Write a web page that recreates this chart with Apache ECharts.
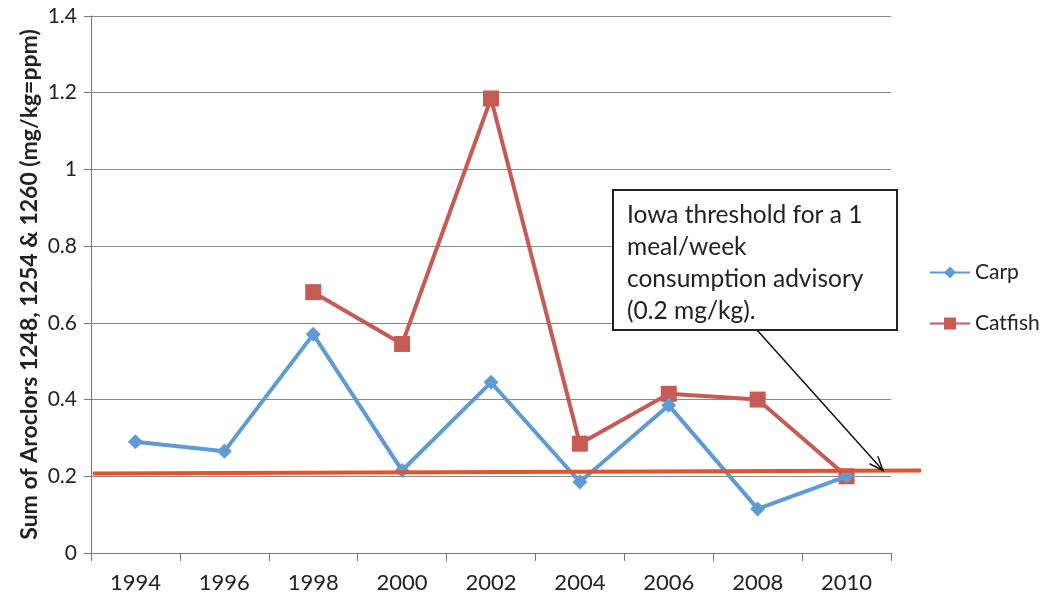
<!DOCTYPE html>
<html><head><meta charset="utf-8">
<script src="https://cdn.jsdelivr.net/npm/echarts@6/dist/echarts.min.js"></script>
<style>html,body{margin:0;padding:0;background:#fff}#c{width:1040px;height:596px}</style>
</head><body><div id="c"></div>
<script>
const years = ['1994','1996','1998','2000','2002','2004','2006','2008','2010'];
const carp = [0.29, 0.265, 0.57, 0.215, 0.445, 0.185, 0.385, 0.115, 0.2];
const catfish = [null, null, 0.68, 0.545, 1.185, 0.285, 0.415, 0.40, 0.2];
const threshold = 0.21;
const yTicks = {min: 0, max: 1.4, interval: 0.2};
const noteLines = ['Iowa threshold for a 1', 'meal/week', 'consumption advisory', '(0.2 mg/kg).'];

const FONT = 'Lato, "Open Sans", sans-serif';
const chart = echarts.init(document.getElementById('c'));
const option = {
  backgroundColor: '#fff',
  animation: false,
  grid: {left: 91, right: 149, top: 16, bottom: 43},
  legend: {
    orient: 'vertical', left: 924, top: 257, itemGap: 30,
    itemWidth: 40, itemHeight: 15,
    textStyle: {fontFamily: FONT, fontSize: 21, color: '#222'},
    data: ['Carp', 'Catfish']
  },
  xAxis: {
    type: 'category', data: years, boundaryGap: true,
    axisLine: {lineStyle: {color: '#777', width: 1}},
    axisTick: {show: true, length: 8, inside: false, lineStyle: {color: '#777'}},
    axisLabel: {fontFamily: FONT, fontSize: 22, color: '#222', margin: 19}
  },
  yAxis: {
    type: 'value', min: yTicks.min, max: yTicks.max, interval: yTicks.interval,
    name: 'Sum of Aroclors 1248, 1254 & 1260 (mg/kg=ppm)',
    nameLocation: 'middle', nameRotate: 90, nameGap: 50, nameMoveOverlap: false,
    nameTextStyle: {fontFamily: FONT, fontSize: 23, fontWeight: 'bold', color: '#222'},
    axisLine: {show: true, lineStyle: {color: '#777'}},
    axisTick: {show: true, length: 7, lineStyle: {color: '#777'}},
    splitLine: {lineStyle: {color: '#888', width: 1}},
    axisLabel: {fontFamily: FONT, fontSize: 21, color: '#222', margin: 14,
      formatter: v => String(Math.round(v * 10) / 10)}
  },
  series: [
    {name: 'Carp', type: 'line', data: carp, connectNulls: false,
     symbol: 'diamond', symbolSize: 15,
     lineStyle: {color: '#5f9bd3', width: 4},
     itemStyle: {color: '#5f9bd3'}, z: 3},
    {name: 'Catfish', type: 'line', data: catfish,
     symbol: 'rect', symbolSize: 16,
     lineStyle: {color: '#c65b55', width: 4},
     itemStyle: {color: '#c65b55'}, z: 2}
  ]
};
chart.setOption(option);

// Threshold line and annotation drawn from scale positions
const yT = chart.convertToPixel({yAxisIndex: 0}, threshold);
const x0 = chart.convertToPixel({xAxisIndex: 0}, years[0]);
const xN = chart.convertToPixel({xAxisIndex: 0}, years[years.length - 1]);
const band = (xN - x0) / (years.length - 1);
const gridLeft = x0 - band / 2, gridRight = xN + band / 2;
const tipX = gridRight - 8, tipY = yT - 2;
const startX = 757, startY = 330;
const ang = Math.atan2(tipY - startY, tipX - startX);
const hl = 15, ha = 0.38;
const head = [
  [tipX - hl * Math.cos(ang - ha), tipY - hl * Math.sin(ang - ha)],
  [tipX, tipY],
  [tipX - hl * Math.cos(ang + ha), tipY - hl * Math.sin(ang + ha)]
];
chart.setOption({
  graphic: [
    {type: 'line', z: 10, shape: {x1: gridLeft + 2, y1: yT + 1, x2: gridRight + 30, y2: yT - 2},
     style: {stroke: '#e0532b', lineWidth: 4}},
    {type: 'rect', z: 11, shape: {x: 613, y: 190, width: 284, height: 140},
     style: {fill: '#fff', stroke: '#222', lineWidth: 2}},
    {type: 'text', z: 12, left: 627, top: 199,
     style: {text: noteLines.join('\n'), fontFamily: FONT, fontSize: 24.5, lineHeight: 32, fill: '#222'}},
    {type: 'line', z: 12, shape: {x1: startX, y1: startY, x2: tipX, y2: tipY},
     style: {stroke: '#111', lineWidth: 1.5}},
    {type: 'polyline', z: 12, shape: {points: head},
     style: {stroke: '#111', lineWidth: 1.5, fill: null}}
  ]
});
</script>
</body></html>
